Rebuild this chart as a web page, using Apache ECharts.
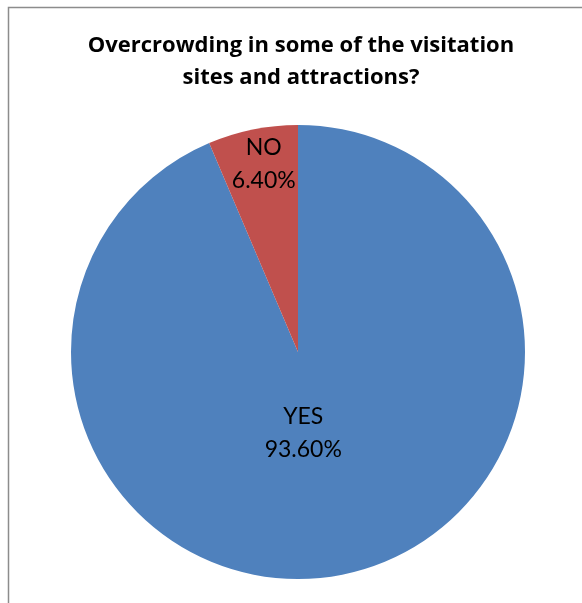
<!DOCTYPE html>
<html>
<head>
<meta charset="utf-8">
<script src="https://cdn.jsdelivr.net/npm/echarts@6/dist/echarts.min.js"></script>
<style>
  html, body { margin: 0; padding: 0; background: #fff; }
  #chart { width: 582px; height: 603px; }
</style>
</head>
<body>
<div id="chart"></div>
<script>
// Survey answers and their shares (%)
const categories = ['YES', 'NO'];
const shares = [93.6, 6.4];
const sliceColors = ['#4F81BD', '#C0504D'];
// Nudge each label toward where it sits inside its slice
const labelOffsets = [[-18, -33], [-11, -74]];

const chart = echarts.init(document.getElementById('chart'), null, { renderer: 'canvas' });

chart.setOption({
  backgroundColor: '#fff',
  animation: false,
  title: {
    text: 'Overcrowding in some of the visitation\nsites and attractions?',
    left: 296,
    textAlign: 'center',
    top: 25,
    textStyle: {
      fontFamily: 'Open Sans',
      fontWeight: 'bold',
      fontSize: 22,
      lineHeight: 32,
      color: '#000'
    }
  },
  graphic: [
    {
      type: 'polyline',
      shape: { points: [[8.5, 603], [8.5, 7.5], [582, 7.5]] },
      style: { stroke: '#8c8c8c', lineWidth: 1.5, fill: null },
      silent: true
    }
  ],
  series: [{
    type: 'pie',
    center: [298, 352],
    radius: [0, 227],
    startAngle: 90,
    clockwise: true,
    avoidLabelOverlap: false,
    label: {
      show: true,
      position: 'inside',
      fontFamily: 'Lato',
      fontSize: 23,
      lineHeight: 33,
      color: '#000',
      formatter: p => p.name + '\n' + p.value.toFixed(2) + '%'
    },
    labelLine: { show: false },
    itemStyle: { borderWidth: 0 },
    emphasis: { disabled: true },
    data: categories.map((name, i) => ({
      name,
      value: shares[i],
      itemStyle: { color: sliceColors[i] },
      label: { offset: labelOffsets[i] }
    }))
  }]
});
</script>
</body>
</html>
